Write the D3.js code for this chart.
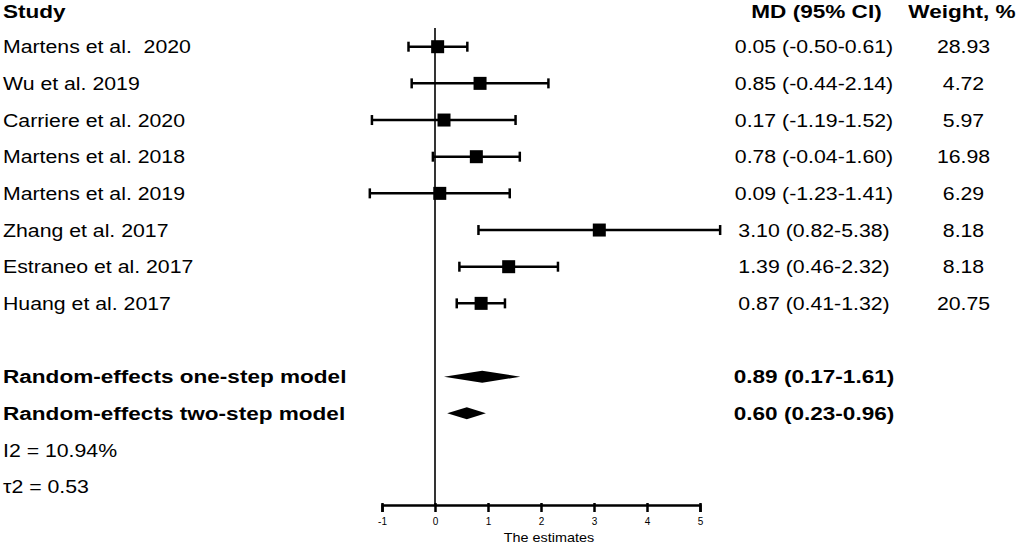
<!DOCTYPE html>
<html>
<head>
<meta charset="utf-8">
<script src="https://cdn.jsdelivr.net/npm/d3@7"></script>
<style>
  body { margin: 0; background: #fff; }
  text { font-family: "Liberation Sans", Arial, sans-serif; fill: #000; white-space: pre; }
</style>
</head>
<body>
<div id="chart"></div>
<script>
// study rows
const studies = ["Martens et al.  2020", "Wu et al. 2019", "Carriere et al. 2020", "Martens et al. 2018",
  "Martens et al. 2019", "Zhang et al. 2017", "Estraneo et al. 2017", "Huang et al. 2017"];
const md = [0.05, 0.85, 0.17, 0.78, 0.09, 3.10, 1.39, 0.87];
const lower = [-0.50, -0.44, -1.19, -0.04, -1.23, 0.82, 0.46, 0.41];
const upper = [0.61, 2.14, 1.52, 1.60, 1.41, 5.38, 2.32, 1.32];
const weights = ["28.93", "4.72", "5.97", "16.98", "6.29", "8.18", "8.18", "20.75"];

// pooled models
const models = ["Random-effects one-step model", "Random-effects two-step model"];
const pooled = [0.89, 0.60];
const pooledLower = [0.17, 0.23];
const pooledUpper = [1.61, 0.96];

const stats = ["I2 = 10.94%", "\u03c42 = 0.53"];
const tickValues = [-1, 0, 1, 2, 3, 4, 5];

const width = 1021, height = 545;
const axisY = 505;
const fontSize = "18.5px";
const stretch = 1.15, stretchBold = 1.22;   // the source text is drawn wide

const svg = d3.select("#chart").append("svg")
    .attr("width", width)
    .attr("height", height);

const x = d3.scaleLinear().domain([-1, 5]).range([382, 700]);
// row index -> vertical centre (row 8 is the empty gap)
const y = d3.scaleLinear().domain([0, 12]).range([46.7, 486.7]);

const fmt = v => v.toFixed(2);

// put a text at (px, py) and widen it horizontally
function label(sel, px, py, bold, anchor) {
    return sel
        .attr("transform", (d, i) => {
            const tx = typeof px === "function" ? px(d, i) : px;
            const ty = typeof py === "function" ? py(d, i) : py;
            return `translate(${tx},${ty}) scale(${bold ? stretchBold : stretch},1)`;
        })
        .attr("dy", "0.35em")
        .attr("font-size", fontSize)
        .attr("font-weight", bold ? "bold" : "normal")
        .attr("text-anchor", anchor || "start");
}

// headers
const headerY = y(-1) + 1;
label(svg.append("text"), 3, headerY, true).text("Study");
label(svg.append("text"), 816.5, headerY, true, "middle").text("MD (95% CI)");
label(svg.append("text"), 962, headerY, true, "middle").text("Weight, %");

// null line
svg.append("line")
    .attr("x1", x(0)).attr("x2", x(0))
    .attr("y1", 28).attr("y2", axisY)
    .attr("stroke", "#000").attr("stroke-width", 1.6);

const rows = svg.append("g").selectAll("g")
    .data(studies.map((s, i) => ({ s, i, md: md[i], lo: lower[i], hi: upper[i], w: weights[i] })))
    .join("g");

label(rows.append("text"), 3, d => y(d.i), false).text(d => d.s);

rows.append("line")
    .attr("x1", d => x(d.lo)).attr("x2", d => x(d.hi))
    .attr("y1", d => y(d.i)).attr("y2", d => y(d.i))
    .attr("stroke", "#000").attr("stroke-width", 2.5);

rows.selectAll(".cap")
    .data(d => [{ v: d.lo, i: d.i }, { v: d.hi, i: d.i }])
    .join("line")
    .attr("class", "cap")
    .attr("x1", d => x(d.v)).attr("x2", d => x(d.v))
    .attr("y1", d => y(d.i) - 5).attr("y2", d => y(d.i) + 5)
    .attr("stroke", "#000").attr("stroke-width", 2.5);

rows.append("rect")
    .attr("x", d => x(d.md) - 6.5).attr("y", d => y(d.i) - 6.5)
    .attr("width", 13).attr("height", 13)
    .attr("fill", "#000");

label(rows.append("text"), 814, d => y(d.i), false, "middle")
    .text(d => `${fmt(d.md)} (${fmt(d.lo)}-${fmt(d.hi)})`);

label(rows.append("text"), 963.5, d => y(d.i), false, "middle")
    .text(d => d.w);

// pooled estimates
const pool = svg.append("g").selectAll("g")
    .data(models.map((m, k) => ({ m, r: 9 + k, est: pooled[k], lo: pooledLower[k], hi: pooledUpper[k] })))
    .join("g");

label(pool.append("text"), 3, d => y(d.r), true).text(d => d.m);

pool.append("path")
    .attr("d", d => {
        const cy = y(d.r);
        return `M${x(d.lo)},${cy}L${x(d.est)},${cy - 6}L${x(d.hi)},${cy}L${x(d.est)},${cy + 6}Z`;
    })
    .attr("fill", "#000");

label(pool.append("text"), 814, d => y(d.r), true, "middle")
    .text(d => `${fmt(d.est)} (${fmt(d.lo)}-${fmt(d.hi)})`);

// heterogeneity
label(svg.append("g").selectAll("text").data(stats).join("text"), 3, (d, k) => y(11 + k), false)
    .text(d => d);

// x axis
const axis = svg.append("g")
    .attr("transform", `translate(0,${axisY})`)
    .call(d3.axisBottom(x).tickValues(tickValues).tickFormat(d => String(d)).tickSizeOuter(0).tickSize(7).tickPadding(6));

axis.select(".domain").attr("stroke-width", 2.5);
axis.selectAll(".tick line").attr("y1", -2).attr("y2", 7).attr("stroke-width", 2.5);
axis.selectAll(".tick text")
    .attr("font-family", "Liberation Sans, Arial, sans-serif")
    .attr("font-size", "10px").attr("fill", "#000");

svg.append("text")
    .attr("transform", `translate(549,542) scale(1.2,1)`)
    .attr("text-anchor", "middle").attr("font-size", "12px")
    .text("The estimates");
</script>
</body>
</html>
